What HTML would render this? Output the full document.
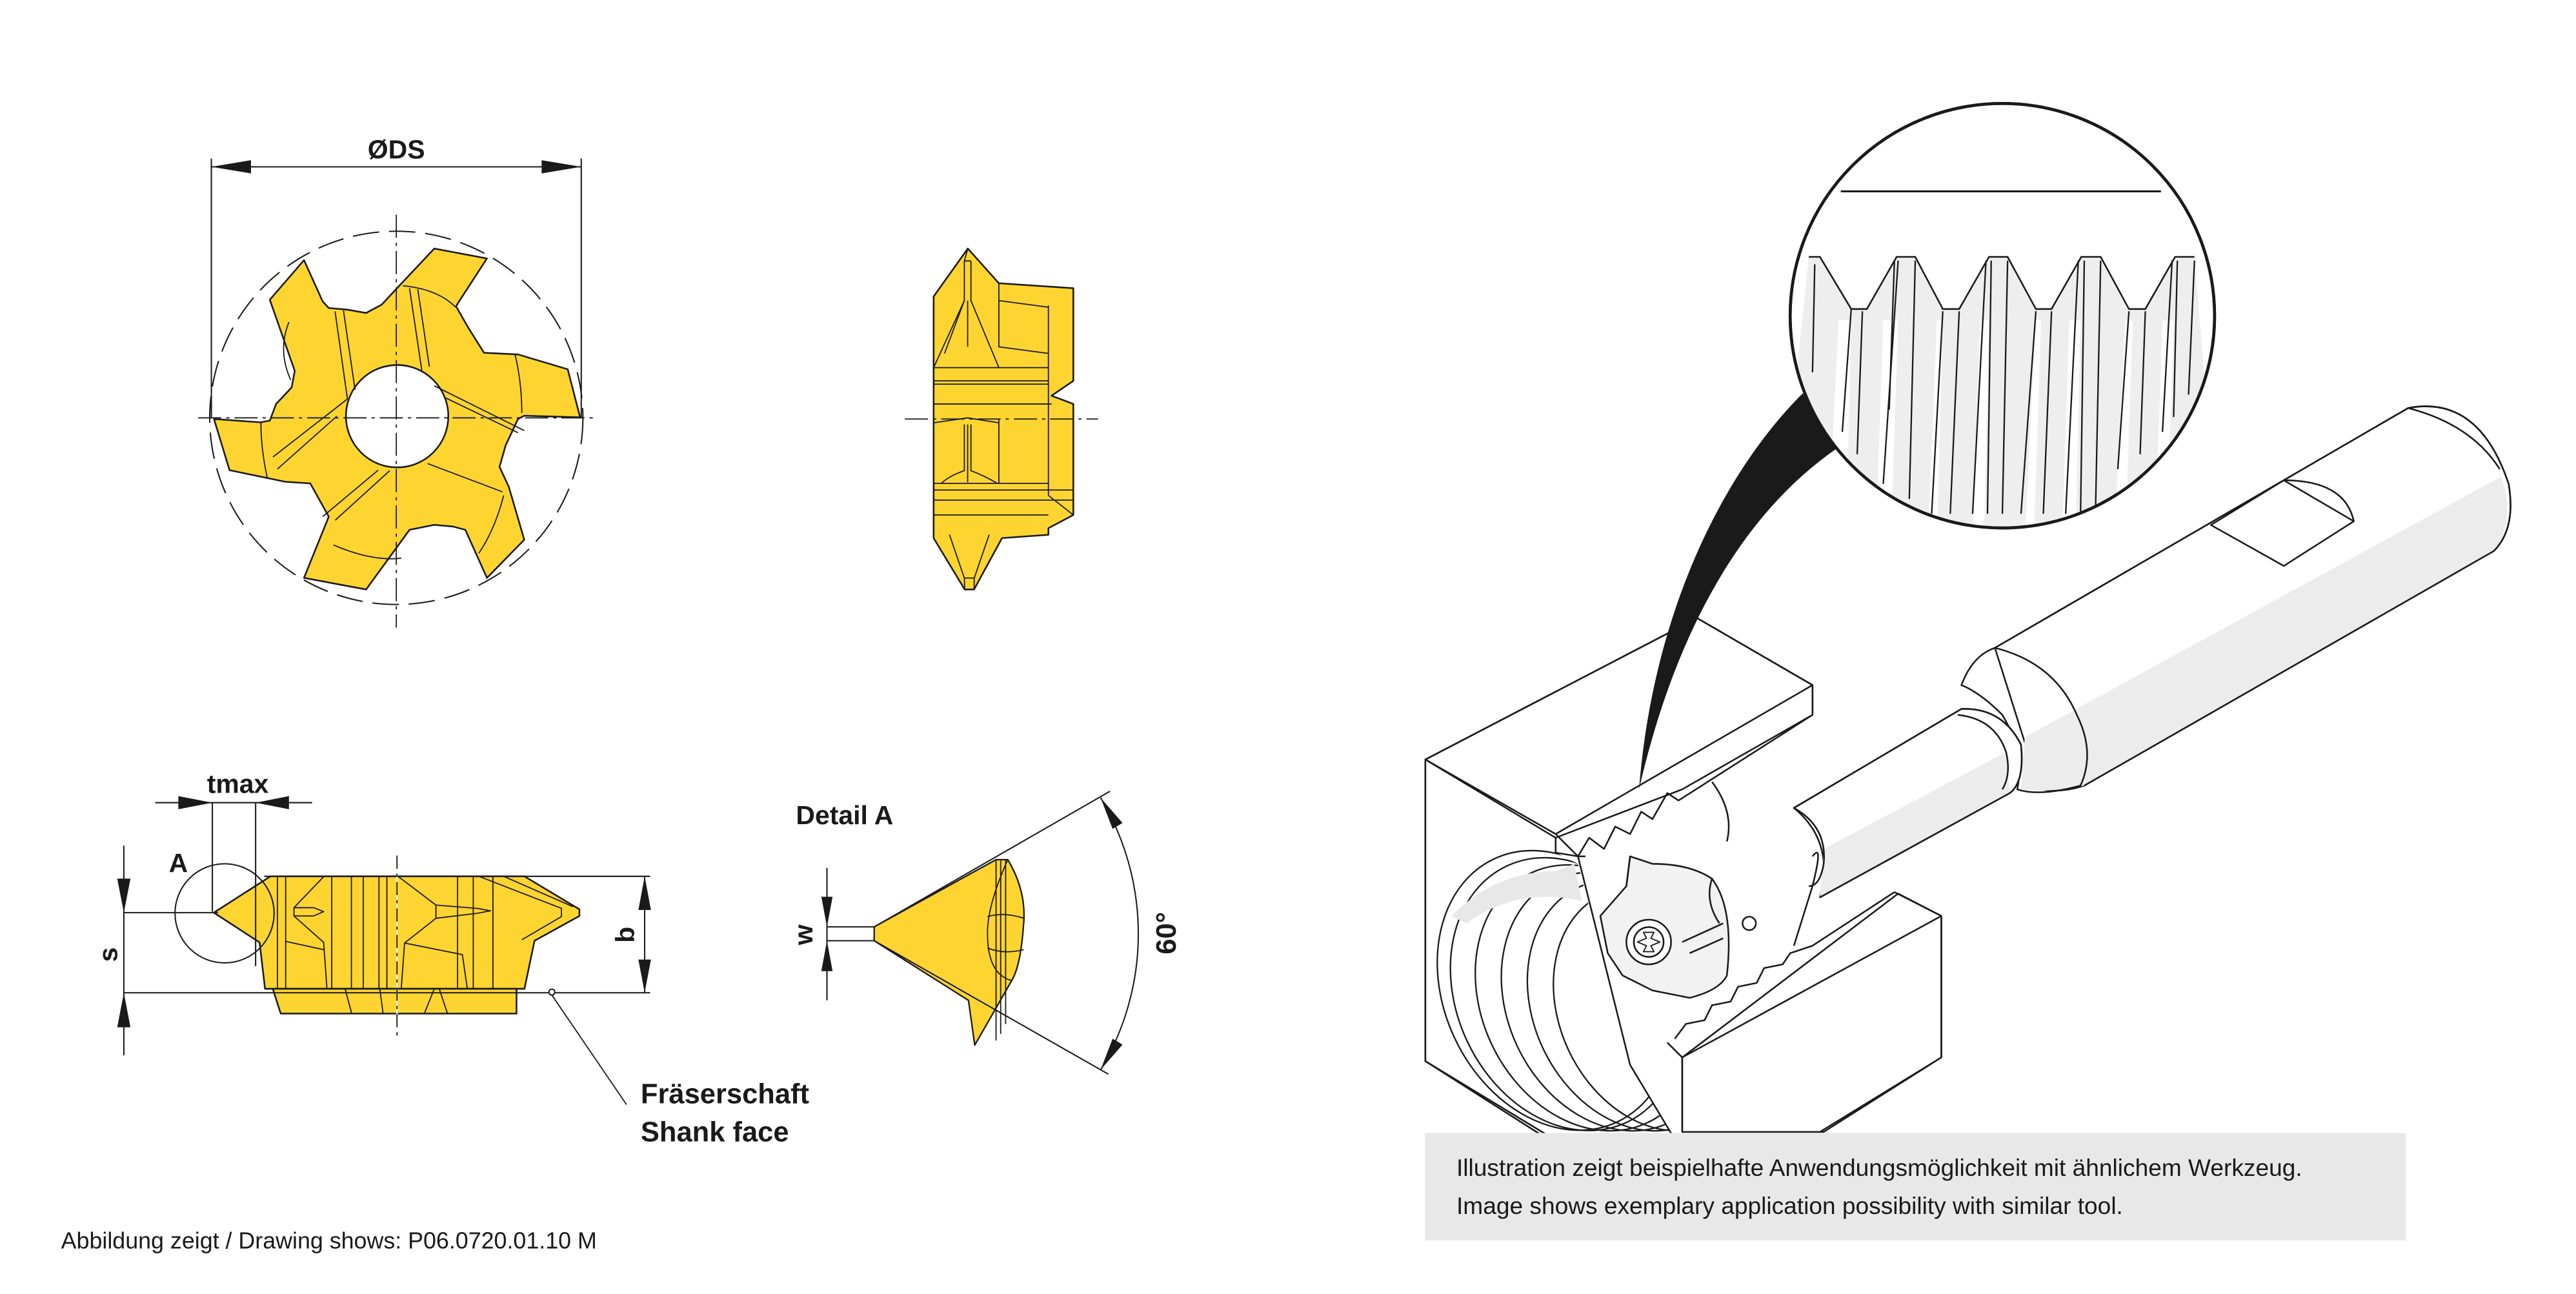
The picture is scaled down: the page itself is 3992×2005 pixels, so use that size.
<!DOCTYPE html>
<html><head><meta charset="utf-8"><style>
html,body{margin:0;padding:0;background:#fff;}
svg{display:block;}
text{font-family:"Liberation Sans",sans-serif;fill:#1a1a1a;}
</style></head><body>
<svg width="3992" height="2005" viewBox="0 0 1560 783.5" preserveAspectRatio="none" xmlns="http://www.w3.org/2000/svg">
<rect width="1560" height="783.5" fill="#fff"/>
<g stroke="#1a1a1a" stroke-width="0.8" fill="none" stroke-linejoin="round">

<!-- ===== Top-left gear ===== -->
<path fill="#FED530" stroke-width="1" d="M242.3,172.5 L263,150.5 L294.9,156.5 L278,182.5 L276.2,185.5 L283.7,198.6 L293.1,213.6 L313.7,214.6 L343.8,223.6 L351.3,252.7 L317.5,251.7 L313.7,253.7 L306.2,269.7 L302.5,282.7 L308.1,294.7 L317.5,326.8 L294.9,349.9 L281.8,320.8 L274.3,318.8 L263,317.8 L248,320.8 L221.7,356.9 L184.1,349.9 L199.1,312.8 L187.9,292.7 L172.8,291.7 L139,284.7 L129.6,253.7 L157.8,255.7 L163.4,254.7 L167.2,244.6 L176.6,234.6 L178.5,224.6 L163.4,181.5 L184.1,157.5 L195.4,182.5 L199.1,186.5 L210.4,187.5 L221.7,189.5 L231.1,184.5 Z"/>
<circle cx="240.5" cy="252" r="31" fill="#fff" stroke-width="1"/>
<g stroke-width="0.7">
<path d="M263,233.6 L317.5,260.7 M270,241 L313.7,262 M210.4,241.6 L165.3,276.7 M204,252 L168,284 M229,284.7 L195.4,312.8 M236,285 L203,315 M259,280.7 L304.3,297.8 M248,174.5 L255.5,224.6 M253,175 L260,222 M202.9,188.5 L210.4,241.6 M208,188 L215,236 M244,173 Q265,175 276,186 M158,256 Q158,272 162,290 M202,330 Q225,340 243,338 M176,230 Q168,212 175,195 M312,215 Q316,232 316,250 M305,300 Q300,320 290,335"/>
</g>
<circle cx="240" cy="253" r="113" stroke-dasharray="16,6" stroke-width="0.8"/>
<path d="M120,253 H362 M240,130 V380" stroke-dasharray="14,3,2,3" stroke-width="0.7"/>
<!-- ØDS -->
<path d="M128,96 V253 M352,96 V253 M128,101 H352" stroke-width="0.8"/>
<path d="M128,101 L152,97 L152,105 Z M352,101 L328,97 L328,105 Z" fill="#1a1a1a" stroke="none"/>

<!-- ===== Side view top ===== -->
<path fill="#FED530" stroke-width="1" d="M586.1,150.5 L604.9,171.5 L650,174.5 L650,230.6 L636.8,239.6 L650,244.6 L650,311.8 L634.9,319.8 L634.9,323.8 L606.8,325.8 L589.9,356.9 L584.2,356.9 L565.4,325.8 L565.4,179.5 Z"/>
<g stroke-width="0.7">
<path d="M565.4,222.6 H634.9 M565.4,230.6 H634.9 M565.4,244.6 H636.8 M565.4,292.7 H634.9 M565.4,296.7 H650 M565.4,302.8 H650 M565.4,311.8 H634.9 M565.4,232.6 H634.9"/>
<path d="M634.9,185 V300 M634.9,300 L650,311.8 M604.9,171.5 V210 L634.9,214 M604.9,182 L634.9,186 M636.8,239.6 L650,230.6"/>
<path d="M586.1,150.5 L584,158 L584,182 L565.4,222.6 M588,158 L588,182 L604.9,222.6 M584,158 H588 M586,182 V210 M584,182 L572,214"/>
<path d="M586,257 V292 M584,257 L584,285 Q575,288 570,292.7 M588,257 L588,285 Q596,288 604,292.7 M604.9,254 V292.7 M565.4,256 L586,253 L604.9,256"/>
<path d="M584.2,356.9 L584,350 M589.9,356.9 L590,350 M584,350 H590 M584,350 L575,323.8 M590,350 L599,323.8"/>
</g>
<path d="M548,253.7 H665" stroke-dasharray="14,3,2,3" stroke-width="0.7"/>

<!-- ===== Bottom-left view ===== -->
<path fill="#FED530" stroke-width="1" d="M163.8,530.6 L317.6,530.6 L350.9,550.6 L350.9,554.6 L323.7,569.6 L317.6,598.7 L160.5,598.7 L157.2,570.6 L129.5,552.6 Z"/>
<path fill="#FED530" stroke-width="1" d="M165.2,598.7 L312.8,598.7 L312.8,613.7 L170,613.7 Z"/>
<g stroke-width="0.7">
<path d="M200.9,530.6 V598.7 M212.8,530.6 V598.7 M220,530.6 V598.7 M229.5,530.6 V598.7 M234.3,530.6 V598.7 M277.1,530.6 V598.7 M286.6,530.6 V598.7 M298.5,530.6 V598.7 M168,530.6 V598.7 M173,530.6 V598.7"/>
<path d="M196.2,530.6 L178,549.6 L178,554.6 L196,570.6 L198,598.7 M178,549.6 H190 M178,554.6 H190 M190,549.6 L196,552 L190,554.6 M173,570 L196,575"/>
<path d="M241,530.6 L264,548 L264,556 L245,571 L243,598.7 M264,548 L289,550 M264,556 L289,553 M245,571 L280,578 L283,598.7 M289,550 L297,551.5 L289,553"/>
<path d="M290,530.6 L340,550 L340,555 L316,569 M305,530.6 L347,549"/>
<path d="M209,598.7 L213,613.7 M230,598.7 L232,613.7 M263,598.7 L257,613.7 M266,598.7 L271,613.7 M252,598.7 H264"/>
</g>
<!-- dimensions -->
<path d="M160,530.6 H393.7 M74.8,601.1 H393.7 M74.8,552.6 H132 M75,512 V639 M390.4,530.6 V601.1 M94,486 H189 M128.6,486 V552 M154.8,486 V585 M240.4,518 V627" stroke-width="0.8"/>
<path d="M240.4,518 V627" stroke="#fff" stroke-width="0.9" stroke-dasharray="0,0"/>
<path d="M240.4,518 V627" stroke-dasharray="8,3,2,3" stroke-width="0.7"/>
<path d="M75,552.6 L71,532 L79,532 Z M75,601.1 L71,622 L79,622 Z M390.4,530.6 L386.6,551 L394.2,551 Z M390.4,601.1 L386.6,581 L394.2,581 Z M128.6,486 L108,482 L108,490 Z M154.8,486 L175,482 L175,490 Z" fill="#1a1a1a" stroke="none"/>
<circle cx="136" cy="553" r="30" stroke-width="0.8"/>
<circle cx="334.2" cy="600.7" r="1.8" fill="#fff"/>
<path d="M334.2,602.5 L379.4,668.8" stroke-width="0.7"/>

<!-- ===== Detail A ===== -->
<path fill="#FED530" stroke-width="0.9" d="M529.4,561.2 L603.2,520.5 L610.3,520.5 Q622,540 619.8,560.6 Q618,585 612.7,593.7 L590.3,632.8 L586.5,605.7 L529.4,569.6 Z"/>
<g stroke-width="0.7">
<path d="M603.2,520.5 V630 M606,521 V626 M609,521 V620 M610.3,520.5 Q598,548 598,565 Q598,590 612.7,593.7 M598,555 Q608,552 620,556 M598,574 Q608,578 620,575"/>
</g>
<path d="M529.4,561.2 L672.2,479.1 M529.4,569.6 L671.2,650.4" stroke-width="0.8"/>
<path d="M666.5,483 A160,160 0 0 1 666.5,647.8" stroke-width="0.8"/>
<path d="M666.5,483 L679.8,498.3 L673.8,501.9 Z M666.5,647.8 L679.8,632.5 L673.8,628.9 Z" fill="#1a1a1a" stroke="none"/>
<path d="M500.8,561.2 H529.4 M500.8,569.6 H529.4 M500.8,525.5 V605.7" stroke-width="0.8"/>
<path d="M500.8,561.2 L497.4,543 L504.2,543 Z M500.8,569.6 L497.4,588 L504.2,588 Z" fill="#1a1a1a" stroke="none"/>
</g>

<!-- text left -->
<text x="240" y="96" font-size="16" font-weight="bold" text-anchor="middle">ØDS</text>
<text x="144" y="480" font-size="16" font-weight="bold" text-anchor="middle">tmax</text>
<text x="108" y="528" font-size="16" font-weight="bold" text-anchor="middle">A</text>
<text transform="translate(71,578) rotate(-90)" font-size="16" font-weight="bold" text-anchor="middle">s</text>
<text transform="translate(384,566) rotate(-90)" font-size="16" font-weight="bold" text-anchor="middle">b</text>
<text transform="translate(492,566) rotate(-90)" font-size="16" font-weight="bold" text-anchor="middle">w</text>
<text transform="translate(712,565) rotate(-90)" font-size="17" font-weight="bold" text-anchor="middle">60°</text>
<text x="482" y="499" font-size="16" font-weight="bold">Detail A</text>
<text x="388" y="668" font-size="17" font-weight="bold">Fräserschaft</text>
<text x="388" y="691" font-size="17" font-weight="bold">Shank face</text>
<text x="37" y="756" font-size="14">Abbildung zeigt / Drawing shows: P06.0720.01.10 M</text>

<!-- ===== Right illustration (zoom coords) ===== -->
<g transform="translate(851.9,58.6) scale(0.4509)" stroke="#1a1a1a" fill="none" stroke-width="2.2" stroke-linejoin="round">
<defs><clipPath id="cc"><circle cx="800" cy="294" r="283"/></clipPath>
<clipPath id="ff"><path d="M25,895 L200,995 L200,1015 L230,1030 L300,1300 L360,1400 L25,1400 Z"/></clipPath></defs>
<!-- shank -->
<path fill="#fff" d="M790,740 L1345,418 Q1440,400 1480,520 Q1490,580 1460,610 L910,925 Q880,935 850,930 Z"/>
<path fill="#ececec" stroke="none" d="M830,860 L1470,510 Q1490,570 1460,610 L910,925 Q860,935 825,930 Z"/>
<path d="M790,740 L1345,418 Q1440,400 1480,520 Q1490,580 1460,610 L910,925"/>
<path d="M1345,418 Q1430,440 1468,500"/>
<path d="M790,740 Q760,750 745,790 Q770,800 800,830 Q830,880 820,930 Q850,940 905,925 Q925,880 900,830 Q870,760 790,740"/>
<!-- neck -->
<path fill="#fff" d="M520,955 L745,822 Q800,820 825,870 Q830,920 810,935 L555,1075 Q575,1000 520,955 Z"/>
<path fill="#ececec" stroke="none" d="M560,1010 L805,880 L810,935 L555,1075 Z"/>
<path d="M520,955 L745,822 M555,1075 L810,935 M745,822 Q800,820 825,870 Q830,920 810,935 M740,830 Q790,835 805,880 Q812,910 800,930 M520,955 Q565,980 560,1030 Q555,1060 540,1060"/>
<!-- flat -->
<path fill="#fff" d="M1080,575 L1178,515 Q1260,515 1272,570 L1178,630 Z"/>
<path d="M1178,515 L1272,570"/>
<!-- block -->
<path fill="#fff" d="M25,890 L390,700 L545,790 L545,830 L370,930 L200,995 L200,1015 L25,1090 Z"/>
<path fill="#fff" d="M25,890 L200,995 L200,1015 L230,1020 L300,1300 L360,1400 L190,1400 L25,1295 Z"/>
<path d="M25,890 L390,700 L545,790 L545,830 M25,890 L200,990 M25,890 V1295 L190,1395"/>
<path d="M200,990 L230,1020 L245,995 L265,1010 L280,980 L300,990 L315,960 L330,970 L350,935 L365,945 L545,830 M545,790 L200,990"/>
<path d="M230,1020 L240,1020 M410,920 Q440,960 430,1000"/>
<!-- thread rings -->
<g clip-path="url(#ff)" stroke-width="2">
<ellipse cx="200" cy="1200" rx="150" ry="195" transform="rotate(-25 200 1200)"/>
<ellipse cx="215" cy="1205" rx="148" ry="190" transform="rotate(-25 215 1205)"/>
<ellipse cx="245" cy="1210" rx="145" ry="185" transform="rotate(-25 245 1210)"/>
<ellipse cx="275" cy="1215" rx="140" ry="180" transform="rotate(-25 275 1215)"/>
<ellipse cx="305" cy="1220" rx="135" ry="175" transform="rotate(-25 305 1220)"/>
<ellipse cx="335" cy="1225" rx="130" ry="170" transform="rotate(-25 335 1225)"/>
</g>
<path fill="#e8e8e8" stroke="none" d="M60,1100 Q120,1040 200,1040 L225,1030 L235,1080 Q150,1060 80,1110 Z"/>
<!-- lower right block -->
<path fill="#fff" d="M370,1290 L660,1070 L718,1100 L718,1290 L560,1390 L370,1390 Z"/>
<path d="M370,1290 V1390 M718,1100 V1290 L555,1390 M655,1068 L718,1100 M545,1140 L655,1068 M370,1290 L718,1100 M350,1270 L370,1290"/>
<path d="M360,1265 L375,1245 L400,1240 L410,1220 L435,1215 L445,1195 L470,1190 L480,1170 L505,1165 L515,1150 L545,1140"/>
<path d="M545,1020 Q560,1000 545,1060 L520,1140"/>
<!-- insert -->
<path fill="#f2f2f2" d="M300,1020 L330,1030 Q380,1030 410,1050 Q440,1090 430,1180 Q420,1200 380,1210 L330,1200 L290,1180 L270,1150 L260,1100 L295,1060 Z"/>
<path d="M295,1060 L300,1020 M370,1135 L425,1110 M380,1150 L425,1130 M410,1050 Q400,1080 420,1110"/>
<circle cx="325" cy="1135" r="30" fill="#fff"/>
<circle cx="325" cy="1135" r="20"/>
<path d="M318,1122 L332,1122 L328,1130 L340,1135 L328,1140 L332,1148 L318,1148 L322,1140 L310,1135 L322,1130 Z" stroke-width="1.6"/>
<circle cx="460" cy="1110" rx="8" r="9"/>
<!-- black wedge -->
<path fill="#1a1a1a" stroke="none" d="M532,398 C420,510 330,700 312,930 C360,720 450,560 578,472 Z"/>
<!-- magnifier -->
<circle cx="800" cy="294" r="285" fill="#fff" stroke-width="4"/>
<g clip-path="url(#cc)">
<path fill="#eeeeee" stroke="none" d="M540,215 L555,215 L597,285 L618,285 L658,215 L683,215 L720,285 L742,285 L782,215 L807,215 L845,285 L866,285 L906,215 L932,215 L970,285 L992,285 L1032,215 L1058,215 L1090,600 L500,600 Z"/>
<path fill="#fff" stroke="none" d="M565,600 L580,300 L597,300 L590,600 Z M700,600 L712,300 L720,300 L712,600 Z M830,600 L845,300 L852,300 L842,600 Z M950,600 L965,300 L975,300 L965,600 Z M630,600 L640,300 L660,300 L650,600 Z M760,600 L770,300 L782,300 L775,600 Z M880,600 L890,300 L905,300 L898,600 Z M1005,600 L1015,300 L1030,300 L1020,600 Z"/>
<path d="M540,215 L555,215 L597,285 L618,285 L658,215 L683,215 L720,285 L742,285 L782,215 L807,215 L845,285 L866,285 L906,215 L932,215 L970,285 L992,285 L1032,215 L1058,215"/>
<g stroke-width="2">
<path d="M548,225 L545,370 M597,285 L585,450 M612,288 L605,480 M655,220 L648,420 M660,220 L640,520 M683,220 L675,540 M720,288 L705,560 M742,288 L730,560 M778,220 L760,560 M785,220 L780,560 M807,220 L800,560 M845,288 L825,560 M866,288 L855,560 M902,220 L885,560 M910,220 L905,560 M932,220 L925,560 M970,288 L955,500 M992,288 L985,480 M1028,220 L1015,450 M1035,220 L1030,430 M1058,220 L1050,400"/>
</g>
<path d="M583,127 H1013" stroke-width="2.5"/>
</g>
<circle cx="800" cy="294" r="285" stroke-width="4"/>
</g>

<!-- caption -->
<rect x="863" y="686" width="594" height="65" fill="#e8e8e8"/>
<text x="882" y="712" font-size="14.5">Illustration zeigt beispielhafte Anwendungsmöglichkeit mit ähnlichem Werkzeug.</text>
<text x="882" y="735" font-size="14.5">Image shows exemplary application possibility with similar tool.</text>
</svg>
</body></html>
